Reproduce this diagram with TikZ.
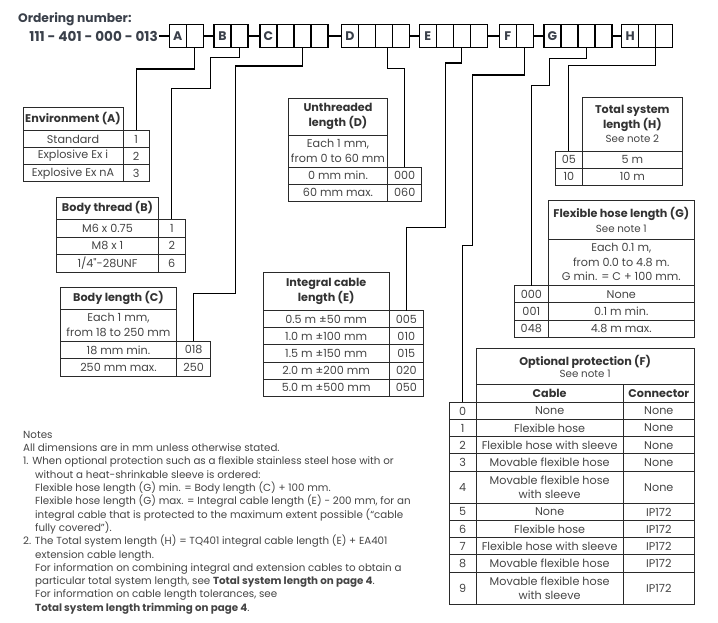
\documentclass[tikz,border=0pt]{standalone}
\usepackage{fontspec}
\setmainfont{Poppins}
\usetikzlibrary{positioning}
\definecolor{txt}{HTML}{444444}
\definecolor{headtxt}{HTML}{333333}
\definecolor{tabline}{HTML}{2A2A2A}
\definecolor{codetxt}{HTML}{3A404A}
\newcommand\hdline[1]{{\bfseries\fontsize{11.2}{15.5}\selectfont\color{headtxt}#1}}
\newcommand\seenote[1]{{\fontsize{10.3}{15}\selectfont #1}}
\tikzset{
  cell/.style 2 args={draw=tabline, line width=0.9pt, minimum width=#1pt, minimum height=#2pt,
    anchor=north west, inner sep=0pt, outer sep=0pt, text=txt, align=center,
    font=\fontsize{11.2}{14.5}\selectfont},
  head/.style={font=\bfseries\fontsize{11.2}{15}\selectfont, text=headtxt},
  digit/.style={draw=black, line width=1.1pt, minimum width=17pt, minimum height=23pt,
    anchor=north west, inner sep=0pt, outer sep=0pt, text=codetxt,
    font=\bfseries\fontsize{12.5}{12.5}\selectfont},
  joint/.style={line width=2pt, black},
  lead/.style={line width=1.1pt, black}
}
\begin{document}
\begin{tikzpicture}[x=1pt, y=-1pt]
  \useasboundingbox (0,0) rectangle (718,623);
  % ordering number
  \node[anchor=west, inner sep=0pt, text=codetxt, font=\bfseries\fontsize{12.3}{12.3}\selectfont] (title) at (18,19) {Ordering number:};
  \node[anchor=east, inner sep=1pt, text=codetxt, font=\bfseries\fontsize{13.6}{13.6}\selectfont] (code) at (159,36) {111 - 401 - 000 - 013};
  \foreach \g/\x/\n in {A/169.3/2, B/214/2, C/260/4, D/341.3/4, E/419.3/4, F/499.3/2, G/544/4, H/621.7/3}{
    \foreach \i in {1,...,\n}
      \node[digit] (\g\i) at ({\x+17*(\i-1)},24.5) {\ifnum\i=1 \g\fi};
  }
  \draw[joint] (code.east) -- (A1.west);
  \foreach \a/\b in {A2/B1, B2/C1, C4/D1, D4/E1, E4/F1, F2/G1, G4/H1}
    \draw[joint] (\a.east) -- (\b.west);

  % environment (A)
  \node[cell={100}{23.2}, head] (envh) at (23,107.3) {Environment (A)};
  \foreach \i/\t in {1/Standard, 2/Explosive Ex i, 3/Explosive Ex nA}{
    \node[cell={100}{17.1}] (env\i) at (23,{130.5+17.1*(\i-1)}) {\t};
    \node[cell={26.3}{17.1}] (envv\i) at (123,{130.5+17.1*(\i-1)}) {\i};
  }

  % body thread (B)
  \node[cell={101.6}{22}, head] (bth) at (56.7,197.3) {Body thread (B)};
  \node[cell={101.6}{17.7}] (bth1) at (56.7,219.3) {M6 x 0.75};
  \node[cell={27}{17.7}] (bthv1) at (158.3,219.3) {1};
  \node[cell={101.6}{17.7}] (bth2) at (56.7,237) {M8 x 1};
  \node[cell={27}{17.7}] (bthv2) at (158.3,237) {2};
  \node[cell={101.6}{17.6}] (bth3) at (56.7,254.7) {1/4\textquotedbl-28UNF};
  \node[cell={27}{17.6}] (bthv3) at (158.3,254.7) {6};

  % body length (C)
  \node[cell={116.4}{22}, head] (bl) at (60.3,287.3) {Body length (C)};
  \node[cell={116.4}{31.7}] (bld) at (60.3,309.3) {Each 1 mm,\\from 18 to 250 mm};
  \node[cell={116.4}{17.7}] (bl1) at (60.3,341) {18 mm min.};
  \node[cell={34}{17.7}] (blv1) at (176.7,341) {018};
  \node[cell={116.4}{17.6}] (bl2) at (60.3,358.7) {250 mm max.};
  \node[cell={34}{17.6}] (blv2) at (176.7,358.7) {250};

  % unthreaded length (D)
  \node[cell={99.4}{36.7}, head] (ud) at (288.3,98.3) {Unthreaded\\length (D)};
  \node[cell={99.4}{32.3}] (udd) at (288.3,135) {Each 1 mm,\\from 0 to 60 mm};
  \node[cell={99.4}{16.9}] (ud1) at (288.3,167.3) {0 mm min.};
  \node[cell={34}{16.9}] (udv1) at (387.7,167.3) {000};
  \node[cell={99.4}{16.8}] (ud2) at (288.3,184.2) {60 mm max.};
  \node[cell={34}{16.8}] (udv2) at (387.7,184.2) {060};

  % integral cable length (E)
  \node[cell={126.3}{38.4}, head] (ic) at (263,272.3) {Integral cable\\length (E)};
  \foreach \i/\t/\v in {1/0.5 m ±50 mm/005, 2/1.0 m ±100 mm/010, 3/1.5 m ±150 mm/015,
      4/2.0 m ±200 mm/020, 5/5.0 m ±500 mm/050}{
    \node[cell={126.3}{17.1}] (ic\i) at (263,{310.7+17.1*(\i-1)}) {\t};
    \node[cell={34}{17.1}] (icv\i) at (389.3,{310.7+17.1*(\i-1)}) {\v};
  }

  % total system length (H)
  \node[cell={100.7}{53.7}] (ts) at (582,97.3) {\hdline{Total system}\\\hdline{length (H)}\\\seenote{See note 2}};
  \node[cell={26.3}{17}] (tsv1) at (555.7,151) {05};
  \node[cell={100.7}{17}] (ts1) at (582,151) {5 m};
  \node[cell={26.3}{17}] (tsv2) at (555.7,168) {10};
  \node[cell={100.7}{17}] (ts2) at (582,168) {10 m};

  % flexible hose length (G)
  \node[cell={146}{38.3}] (fh) at (548.3,200.7) {\hdline{Flexible hose length (G)}\\\seenote{See note 1}};
  \node[cell={146}{46.7}] (fhd) at (548.3,239) {Each 0.1 m,\\from 0.0 to 4.8 m.\\G min. = C + 100 mm.};
  \foreach \i/\y/\v/\t in {1/285.7/000/None, 2/302.9/001/0.1 m min., 3/320.1/048/4.8 m max.}{
    \node[cell={34}{17.2}] (fhv\i) at (514.3,\y) {\v};
    \node[cell={146}{17.2}] (fh\i) at (548.3,\y) {\t};
  }

  % optional protection (F)
  \node[cell={218.3}{36}] (op) at (476,348.3) {\hdline{Optional protection (F)}\\[-2pt]\seenote{See note 1}};
  \node[cell={147.3}{18}, head] (opcab) at (476,384.3) {Cable};
  \node[cell={71}{18}, head] (opcon) at (623.3,384.3) {Connector};
  \foreach \i/\y/\h/\cab/\con in {0/402.3/17.2/None/None, 1/419.5/17.2/Flexible hose/None,
      2/436.7/17.2/Flexible hose with sleeve/None, 3/453.9/17.2/Movable flexible hose/None,
      4/471.1/32.2/{Movable flexible hose\\with sleeve}/None, 5/503.3/17.2/None/IP172,
      6/520.5/17.2/Flexible hose/IP172, 7/537.7/17.2/Flexible hose with sleeve/IP172,
      8/554.9/17.2/Movable flexible hose/IP172, 9/572.1/31.9/{Movable flexible hose\\with sleeve}/IP172}{
    \node[cell={26.7}{\h}] (opv\i) at (449.3,\y) {\i};
    \node[cell={147.3}{\h}] (opc\i) at (476,\y) {\cab};
    \node[cell={71}{\h}] (opn\i) at (623.3,\y) {\con};
  }

  % leads from the code to the tables
  \draw[lead] (A2.south) -- ++(0,21.5) -| (envv1.north);
  \draw[lead] (B2.south) -- ++(0,10) -| (210.5,88.5) -| (bthv1.north);
  \draw[lead] (C3.south) -- ++(0,18.5) -| (235.5,293.3) -| (blv1.north);
  \draw[lead] ([xshift=4pt]D3.south) -- ++(0,21) -| (udv1.north);
  \draw[lead] (E3.south) -- ++(0,15.5) -| (445.5,227.3) -| (icv1.north);
  \draw[lead] (F2.south) -- ++(0,27.5) -| (472.5,245.7) -| (opv0.north);
  \draw[lead] (G3.south) -- ++(0,10.8) -| (549.3,85.3) -| (fhv1.north);
  \draw[lead] (H2.south east) -- ++(0,17.8) -| (tsv1.north);

  % notes
  \node[anchor=north west, align=left, inner sep=0pt, text=txt, font=\fontsize{10.3}{13.3}\selectfont] (notes) at (23,431) {Notes\\
    All dimensions are in mm unless otherwise stated.\\
    1. When optional protection such as a flexible stainless steel hose with or\\
    \hspace*{12pt}without a heat-shrinkable sleeve is ordered:\\
    \hspace*{12pt}Flexible hose length (G) min. = Body length (C) + 100 mm.\\
    \hspace*{12pt}Flexible hose length (G) max. = Integral cable length (E) − 200 mm, for an\\
    \hspace*{12pt}integral cable that is protected to the maximum extent possible (“cable\\
    \hspace*{12pt}fully covered”).\\
    2. The Total system length (H) = TQ401 integral cable length (E) + EA401\\
    \hspace*{12pt}extension cable length.\\
    \hspace*{12pt}For information on combining integral and extension cables to obtain a\\
    \hspace*{12pt}particular total system length, see \textbf{Total system length on page 4}.\\
    \hspace*{12pt}For information on cable length tolerances, see\\
    \hspace*{12pt}\textbf{Total system length trimming on page 4}.};
\end{tikzpicture}
\end{document}
